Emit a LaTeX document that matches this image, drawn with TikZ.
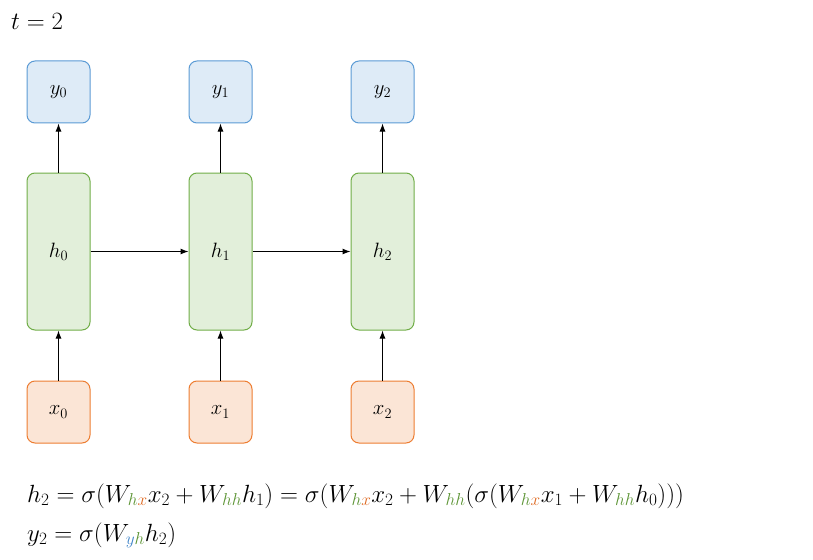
\documentclass[tikz,border=0pt]{standalone}
\usepackage{amsmath}
\usetikzlibrary{arrows.meta,positioning}
\definecolor{OutBlue}{RGB}{222,235,247}
\definecolor{OutBlueLine}{RGB}{91,155,213}
\definecolor{HidGreen}{RGB}{226,239,218}
\definecolor{HidGreenLine}{RGB}{112,173,71}
\definecolor{InOrange}{RGB}{251,229,214}
\definecolor{InOrangeLine}{RGB}{237,125,49}
\definecolor{SubGreen}{RGB}{92,148,52}
\definecolor{SubOrange}{RGB}{222,104,32}
\definecolor{SubBlue}{RGB}{64,132,200}
\newcommand{\sh}{\textcolor{SubGreen}{h}}
\newcommand{\sx}{\textcolor{SubOrange}{x}}
\newcommand{\sy}{\textcolor{SubBlue}{y}}

\begin{document}
\begin{tikzpicture}[x=1pt,y=-1pt,node distance=49pt and 98pt,
every node/.style={font=\fontsize{22.5}{27}\selectfont},
cell/.style={draw,rounded corners=8pt,line width=1pt,minimum width=63pt,inner sep=0pt},
outbox/.style={cell,minimum height=62pt,fill=OutBlue,draw=OutBlueLine},
hidbox/.style={cell,minimum height=157pt,fill=HidGreen,draw=HidGreenLine},
inbox/.style={cell,minimum height=62pt,fill=InOrange,draw=InOrangeLine},
eqn/.style={anchor=base west,inner sep=0pt,font=\fontsize{23.8}{28}\selectfont},
arrow/.style={-{Latex[length=8pt,width=6pt]},line width=1pt}]
\useasboundingbox (0,0) rectangle (813,559);
\node[anchor=base west,inner sep=0pt,font=\fontsize{29}{34}\selectfont] (time) at (11,30) {$t=2$};
\node[hidbox] (h0) at (58.5,251.5) {$h_0$};
\node[hidbox,right=of h0] (h1) {$h_1$};
\node[hidbox,right=of h1] (h2) {$h_2$};
\node[outbox,above=of h0] (y0) {$y_0$};
\node[outbox,above=of h1] (y1) {$y_1$};
\node[outbox,above=of h2] (y2) {$y_2$};
\node[inbox,below=50pt of h0] (x0) {$x_0$};
\node[inbox,below=50pt of h1] (x1) {$x_1$};
\node[inbox,below=50pt of h2] (x2) {$x_2$};
\foreach \i in {0,1,2}{
  \draw[arrow] (x\i) -- (h\i);
  \draw[arrow] (h\i) -- (y\i);
}
\draw[arrow] (h0) -- (h1);
\draw[arrow] (h1) -- (h2);
% update and output equations
\node[eqn] (hupd) at (27,502) {$h_2=\sigma(W_{\sh\sx}x_2+W_{\sh\sh}h_1)=\sigma(W_{\sh\sx}x_2+W_{\sh\sh}(\sigma(W_{\sh\sx}x_1+W_{\sh\sh}h_0)))$};
\node[eqn] (yout) at (27,541) {$y_2=\sigma(W_{\sy\sh}h_2)$};
\end{tikzpicture}
\end{document}
